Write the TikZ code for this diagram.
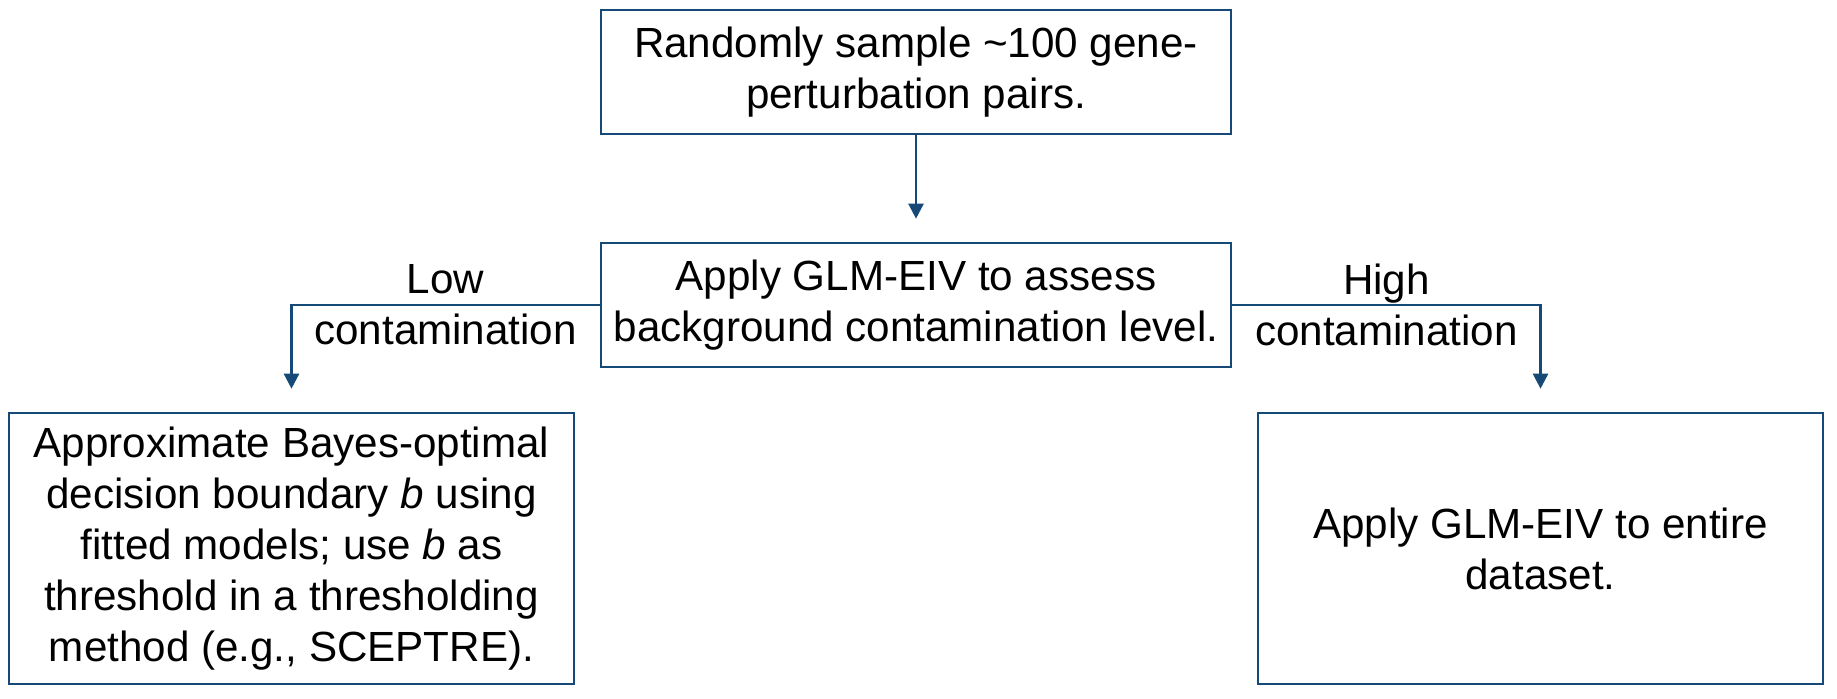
\documentclass[tikz,border=0pt]{standalone}
\usepackage{fontspec}
\setmainfont{Liberation Sans}
\usepackage{tikz}
\usetikzlibrary{arrows.meta, positioning}
\definecolor{edgecol}{RGB}{20,73,120}

\begin{document}
\begin{tikzpicture}[
  font=\fontsize{12}{14.5}\selectfont,
  stepbox/.style={draw=edgecol, line width=0.75pt, fill=white, align=center,
                  inner sep=2pt},
  widebox/.style={stepbox, minimum width=6.30cm, minimum height=1.24cm},
  tallbox/.style={stepbox, minimum width=5.65cm, minimum height=2.71cm},
  flow/.style={-{Triangle[width=0.15cm, length=0.15cm]}, draw=edgecol,
               line width=0.7pt, shorten >=0.23cm},
  note/.style={align=center}
]
  \useasboundingbox (0,0) rectangle (18.37,6.98);

  \node[widebox] (sample) at (9.16,6.26)
    {Randomly sample \textasciitilde100 gene-\\perturbation pairs.};
  \node[widebox] (assess) at (9.16,3.93)
    {Apply GLM-EIV to assess\\background contamination level.};
  \node[tallbox] (thresh) at (2.915,1.495)
    {Approximate Bayes-optimal\\decision boundary \textit{b} using\\
     fitted models; use \textit{b} as\\threshold in a thresholding\\
     method (e.g., SCEPTRE).};
  \node[tallbox] (entire) at (15.405,1.495)
    {Apply GLM-EIV to entire\\dataset.};

  \draw[flow] (sample) -- (assess);
  \draw[flow] (assess.west) -| node[pos=0.25, note]{Low\\contamination} (thresh.north);
  \draw[flow] (assess.east) -| node[pos=0.25, note]{High\\contamination} (entire.north);
\end{tikzpicture}
\end{document}
